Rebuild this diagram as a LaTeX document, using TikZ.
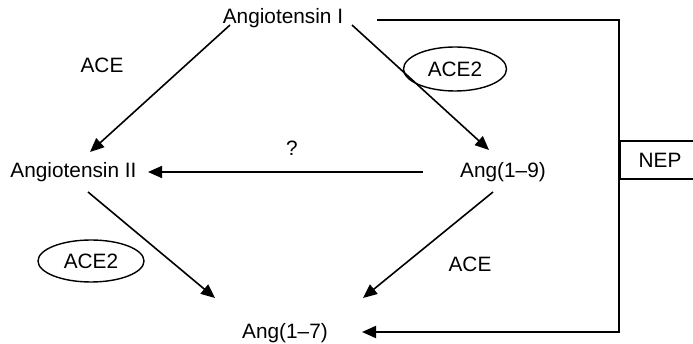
\documentclass[tikz,border=0pt]{standalone}
\usepackage{fontspec}
\setmainfont{Liberation Sans}
\usetikzlibrary{arrows.meta,shapes.geometric}
\begin{document}
\begin{tikzpicture}[x=1pt,y=-1pt,
  label/.style={inner sep=0pt,anchor=base,font=\fontsize{20.8}{24}\selectfont},
  enzyme/.style={ellipse,draw,line width=1.4pt,inner sep=0pt,
    font=\fontsize{20.8}{24}\selectfont},
  arr/.style={line width=1.6pt,-{Triangle[length=14pt,width=12pt]}},
  plain/.style={line width=2pt}]
\useasboundingbox (0,0) rectangle (693,344);

% peptides
\node[label] (angI)   at (283,24)  {Angiotensin I};
\node[label] (angII)  at (73.5,178) {Angiotensin II};
\node[label] (ang19)  at (503,178) {Ang(1–9)};
\node[label] (ang17)  at (285,338) {Ang(1–7)};

% enzymes
\node[label] (aceA) at (102,73)  {ACE};
\node[label] (aceB) at (470,272) {ACE};
\node[enzyme,minimum width=103pt,minimum height=44pt] (ace2A) at (455,69) {ACE2};
\node[enzyme,minimum width=106pt,minimum height=42pt] (ace2B) at (91,261) {ACE2};
\node[label] (qm) at (292,156) {?};
\node[draw,line width=2pt,minimum width=80pt,minimum height=38pt,inner sep=0pt,
  font=\fontsize{20.8}{24}\selectfont] (nep) at (660,160) {NEP};

% connector end points
\coordinate (s1) at (230,25);
\coordinate (e1) at (90,152);
\coordinate (s2) at (352,25);
\coordinate (e2) at (489,150);
\coordinate (s3) at (423,172);
\coordinate (e3) at (148,172);
\coordinate (s4) at (88,192);
\coordinate (e4) at (215,298);
\coordinate (s5) at (493,192);
\coordinate (e5) at (363,298);
\coordinate (s6) at (377,20);
\coordinate (e6) at (362,332);

% reactions
\draw[arr] (s1) -- (e1);
\draw[arr] (s2) -- (e2);
\draw[arr] (s3) -- (e3);
\draw[arr] (s4) -- (e4);
\draw[arr] (s5) -- (e5);
\draw[arr,line width=2pt] (s6) -| (nep.west) |- (e6);
\end{tikzpicture}
\end{document}
